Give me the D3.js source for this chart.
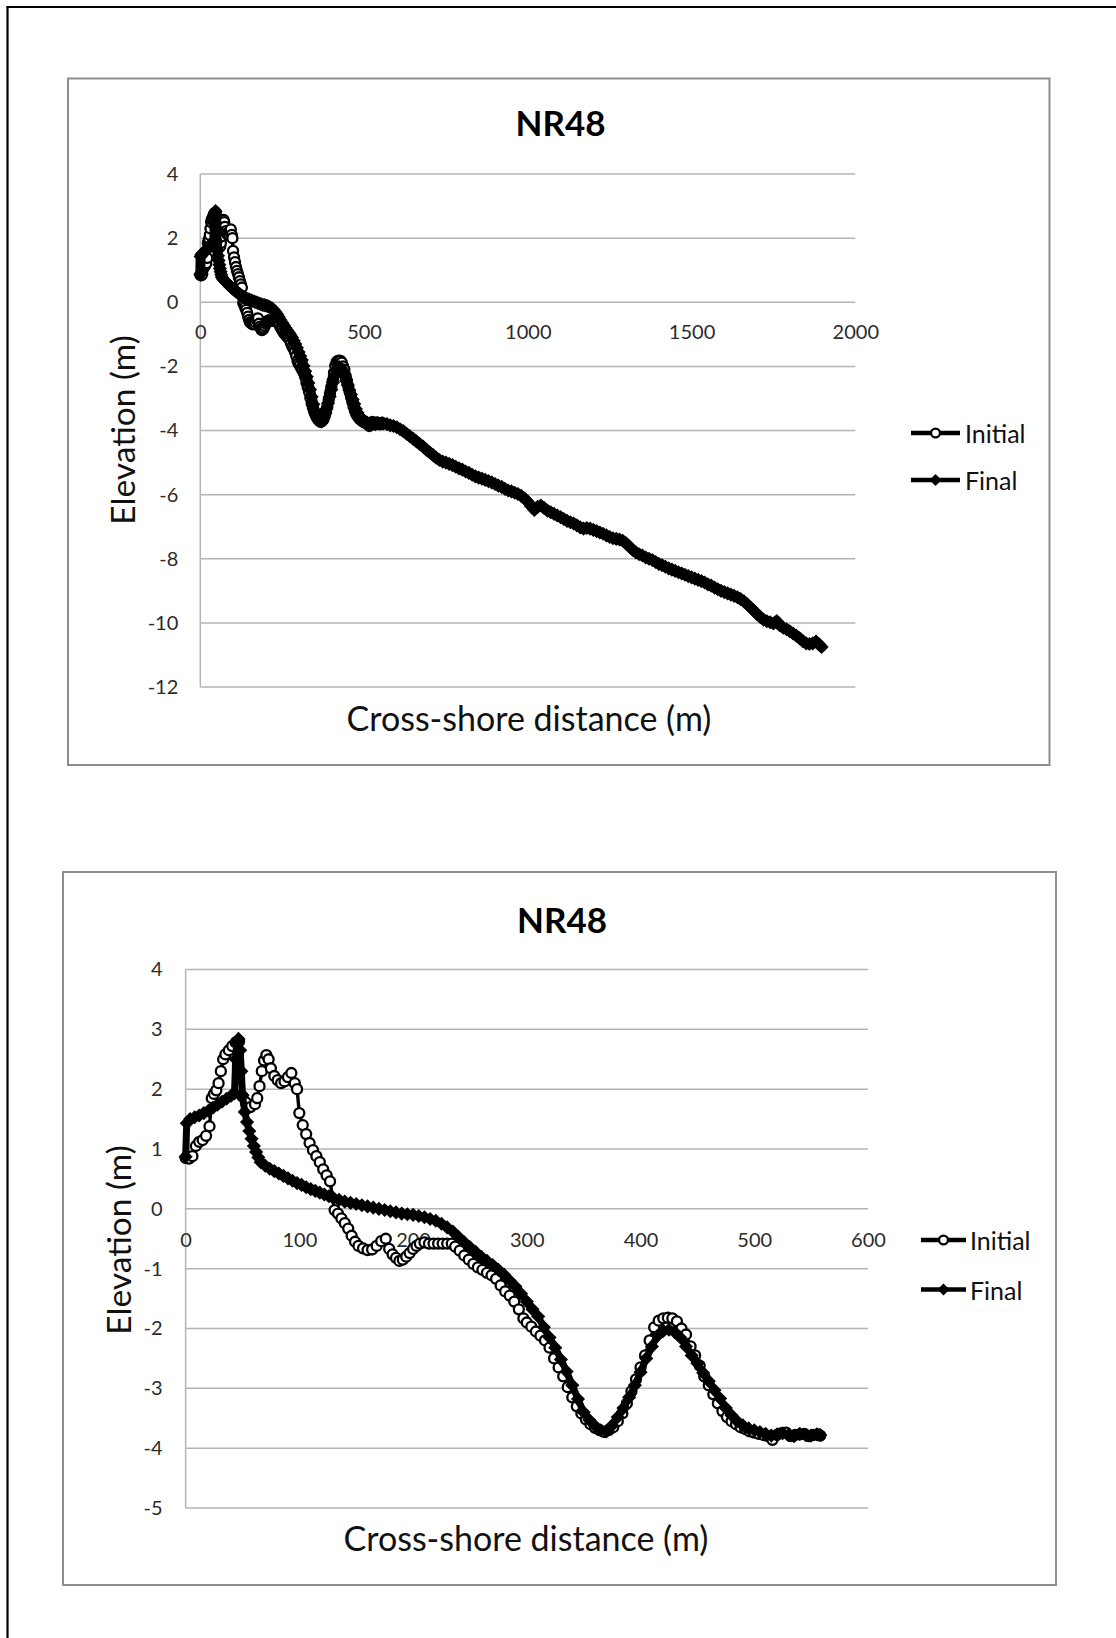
<!DOCTYPE html>
<html>
<head>
<meta charset="utf-8">
<script src="https://cdn.jsdelivr.net/npm/d3@7"></script>
<style>
  body { margin: 0; background: #fff; }
  svg { display: block; }
  text { font-family: Lato, "Open Sans", "Liberation Sans", sans-serif; }
</style>
</head>
<body>
<svg id="fig" width="1116" height="1638"></svg>
<script>
// Profile NR48: cross-shore distance (m) vs elevation (m)

// Initial survey, nearshore part
const initialDist = [0, 3, 6, 9, 12, 15, 18, 21, 23, 25, 27, 29, 31, 33, 35, 38, 41, 44, 47,
  50, 53, 57, 61, 63, 65, 67, 69, 71, 73, 75, 78, 81, 84, 87, 90, 93, 96, 98,
  100, 103, 106, 109, 112, 115, 118, 121, 124, 127, 131, 134, 137, 140, 143, 146, 149,
  152, 156, 160, 164, 168, 172, 176, 179, 182, 185, 188, 191, 194, 197, 200, 203, 206,
  210, 214, 218, 222, 226, 230, 234, 237, 241, 245, 249, 253, 257, 261, 265, 269, 273,
  277, 281, 285, 289, 293, 297, 300, 304, 308, 312, 316, 320, 324, 328, 332, 336, 340,
  344, 348, 352, 356, 360, 364, 368, 372, 376, 380, 384, 388, 392, 396, 400, 404, 408,
  412, 416, 420, 424, 428, 432, 436, 440, 444, 448, 452, 456, 460, 464, 468, 472, 476,
  480, 484, 488, 492, 496, 500, 504, 508, 512, 516, 520, 524, 528, 532, 536, 540, 544,
  548, 552, 556, 558];
const initialElev = [0.85, 0.84, 0.88, 1.05, 1.12, 1.15, 1.22, 1.38, 1.85, 1.92, 1.98, 2.1, 2.3, 2.5, 2.58, 2.65, 2.72, 2.78, 2.8,
  1.88, 1.78, 1.7, 1.75, 1.85, 2.05, 2.3, 2.48, 2.57, 2.5, 2.35, 2.22, 2.15, 2.1, 2.13, 2.2, 2.27, 2.1, 2.0,
  1.6, 1.4, 1.25, 1.1, 0.98, 0.88, 0.78, 0.66, 0.56, 0.46, -0.02, -0.08, -0.16, -0.24, -0.33, -0.45, -0.55,
  -0.62, -0.66, -0.69, -0.68, -0.62, -0.54, -0.5, -0.67, -0.76, -0.82, -0.87, -0.85, -0.8, -0.74, -0.67, -0.62, -0.58,
  -0.56, -0.58, -0.58, -0.58, -0.58, -0.58, -0.58, -0.63, -0.7, -0.78, -0.85, -0.92, -0.98, -1.02, -1.07, -1.11, -1.17,
  -1.28, -1.38, -1.45, -1.55, -1.68, -1.83, -1.9, -1.97, -2.05, -2.12, -2.2, -2.32, -2.5, -2.65, -2.8, -2.98, -3.15,
  -3.3, -3.42, -3.52, -3.6, -3.66, -3.7, -3.73, -3.7, -3.65, -3.55, -3.42, -3.25, -3.05, -2.85, -2.65, -2.45, -2.2,
  -1.98, -1.87, -1.83, -1.82, -1.83, -1.88, -2.0, -2.1, -2.3, -2.45, -2.62, -2.8, -2.95, -3.1, -3.25, -3.38, -3.48,
  -3.55, -3.6, -3.65, -3.68, -3.72, -3.74, -3.76, -3.78, -3.8, -3.86, -3.78, -3.75, -3.74, -3.8, -3.78, -3.77, -3.76,
  -3.8, -3.78, -3.77, -3.79];

// Final survey, nearshore part
const finalDist = [0, 1, 4, 8, 12, 16, 20, 24, 28, 32, 36, 40, 43, 44, 45, 46.5, 48, 49, 50,
  52, 54, 56, 58, 60, 62, 64, 66, 70, 74, 78, 82, 86, 90, 94, 98, 102, 106, 110, 114,
  118, 122, 126, 130, 135, 140, 145, 150, 155, 160, 165, 170, 175, 180, 185, 190, 195,
  200, 205, 210, 215, 220, 225, 230, 235, 240, 245, 250, 255, 260, 265, 270, 275, 280,
  285, 290, 295, 300, 305, 310, 315, 320, 325, 330, 335, 340, 345, 350, 355, 360, 365,
  370, 375, 380, 385, 390, 395, 400, 405, 410, 415, 420, 425, 430, 435, 440, 445, 450,
  455, 460, 465, 470, 475, 480, 485, 490, 495, 500, 505, 510, 515, 520, 525, 530, 535,
  540, 545, 550, 555];
const finalElev = [0.87, 1.43, 1.5, 1.53, 1.56, 1.6, 1.64, 1.69, 1.74, 1.79, 1.84, 1.89, 1.93, 2.5, 2.78, 2.84, 2.65, 2.3, 1.9,
  1.62, 1.45, 1.3, 1.17, 1.05, 0.95, 0.86, 0.78, 0.72, 0.67, 0.63, 0.59, 0.55, 0.51, 0.47, 0.43, 0.4, 0.36, 0.33, 0.3,
  0.27, 0.24, 0.21, 0.18, 0.15, 0.12, 0.1, 0.08, 0.06, 0.04, 0.02, 0.0, -0.02, -0.04, -0.06, -0.08, -0.09,
  -0.1, -0.12, -0.14, -0.17, -0.2, -0.25, -0.31, -0.38, -0.47, -0.56, -0.64, -0.72, -0.8, -0.87, -0.94, -1.02, -1.1,
  -1.2, -1.3, -1.42, -1.55, -1.68, -1.8, -1.98, -2.15, -2.32, -2.52, -2.72, -2.95, -3.18, -3.4, -3.53, -3.63, -3.7,
  -3.72, -3.62, -3.48, -3.33, -3.15, -2.95, -2.73, -2.5, -2.3, -2.12, -2.04, -2.02, -2.06, -2.15, -2.3, -2.45, -2.58,
  -2.74, -2.88, -3.03, -3.17, -3.33, -3.45, -3.55, -3.62, -3.67, -3.7, -3.73, -3.76, -3.79, -3.77, -3.75, -3.78, -3.8,
  -3.76, -3.78, -3.79, -3.77];

// Final survey, offshore part (both surveys coincide here)
const offshoreDist = [558, 570, 580, 590, 600, 610, 620, 630, 640, 650, 660, 670, 680, 690, 700, 710, 720, 730, 740,
  750, 760, 770, 780, 790, 800, 810, 820, 830, 840, 850, 860, 870, 880, 890, 900, 910, 920, 930, 940, 950, 960,
  970, 980, 990, 1000, 1010, 1020, 1030, 1040, 1050, 1060, 1070, 1080, 1090, 1100, 1110, 1120, 1130, 1140, 1150,
  1160, 1170, 1180, 1190, 1200, 1210, 1220, 1230, 1240, 1250, 1260, 1270, 1280, 1290, 1300, 1310, 1320, 1330, 1340,
  1350, 1360, 1370, 1380, 1390, 1400, 1410, 1420, 1430, 1440, 1450, 1460, 1470, 1480, 1490, 1500, 1510, 1520, 1530,
  1540, 1550, 1560, 1570, 1580, 1590, 1600, 1610, 1620, 1630, 1640, 1650, 1660, 1670, 1680, 1690, 1700, 1710, 1720,
  1730, 1740, 1750, 1760, 1770, 1780, 1790, 1800, 1810, 1820, 1830, 1840, 1850, 1860, 1870, 1880, 1890, 1897];
const offshoreElev = [-3.78, -3.8, -3.84, -3.86, -3.9, -3.96, -4.02, -4.1, -4.18, -4.26, -4.34, -4.42, -4.5, -4.6, -4.68, -4.76, -4.85, -4.92, -4.97,
  -5.0, -5.04, -5.08, -5.13, -5.18, -5.22, -5.28, -5.32, -5.38, -5.43, -5.47, -5.5, -5.54, -5.58, -5.62, -5.67, -5.72, -5.76, -5.82, -5.87, -5.9, -5.94,
  -5.98, -6.04, -6.12, -6.22, -6.36, -6.48, -6.38, -6.34, -6.42, -6.5, -6.55, -6.6, -6.65, -6.7, -6.76, -6.82, -6.86, -6.9, -6.96,
  -7.02, -7.06, -7.04, -7.06, -7.1, -7.14, -7.18, -7.22, -7.27, -7.32, -7.36, -7.38, -7.4, -7.44, -7.52, -7.62, -7.72, -7.8, -7.86,
  -7.9, -7.96, -8.0, -8.04, -8.1, -8.16, -8.2, -8.25, -8.3, -8.34, -8.38, -8.42, -8.46, -8.5, -8.54, -8.58, -8.62, -8.66, -8.7,
  -8.74, -8.8, -8.84, -8.9, -8.95, -9.0, -9.04, -9.08, -9.12, -9.16, -9.2, -9.26, -9.33, -9.42, -9.52, -9.62, -9.72, -9.82, -9.9,
  -9.95, -9.98, -10.02, -9.94, -10.08, -10.15, -10.2, -10.26, -10.33, -10.4, -10.48, -10.57, -10.64, -10.66, -10.64, -10.58, -10.68, -10.75];

const seriesNames = ["Initial", "Final"];
const chartTitle = "NR48";
const xTitle = "Cross-shore distance (m)";
const yTitle = "Elevation (m)";

const xTicksFull = [0, 500, 1000, 1500, 2000];
const yTicksFull = [4, 2, 0, -2, -4, -6, -8, -10, -12];
const xTicksNear = [0, 100, 200, 300, 400, 500, 600];
const yTicksNear = [4, 3, 2, 1, 0, -1, -2, -3, -4, -5];

const toPoints = (xs, ys) => xs.map((d, i) => ({ x: d, y: ys[i] }));
const initialPts = toPoints(initialDist, initialElev);
const finalPts = toPoints(finalDist, finalElev).concat(toPoints(offshoreDist, offshoreElev));

const svg = d3.select("#fig");
const plain = d => String(d).replace("\u2212", "-");

// page frame (top and left edges)
svg.append("line").attr("x1", 7.5).attr("x2", 7.5).attr("y1", 6.5).attr("y2", 1638)
  .attr("stroke", "#000").attr("stroke-width", 2.2);
svg.append("line").attr("x1", 6.5).attr("x2", 1116).attr("y1", 7).attr("y2", 7)
  .attr("stroke", "#000").attr("stroke-width", 2.2);

// square diamond marker
const diamond = {
  draw(ctx, size) {
    const h = Math.sqrt(size / 2);
    ctx.moveTo(0, -h); ctx.lineTo(h, 0); ctx.lineTo(0, h); ctx.lineTo(-h, 0); ctx.closePath();
  }
};
const DIAMOND_SIZE = 100;
const CIRCLE_R = 5;

function drawPanel(cfg) {
  const g = svg.append("g");
  g.append("rect")
    .attr("x", cfg.box[0]).attr("y", cfg.box[1])
    .attr("width", cfg.box[2] - cfg.box[0]).attr("height", cfg.box[3] - cfg.box[1])
    .attr("fill", "#fff").attr("stroke", "#8e8e8e").attr("stroke-width", 2);

  const x = d3.scaleLinear().domain(cfg.xDomain).range([cfg.plot.left, cfg.plot.right]);
  const y = d3.scaleLinear().domain(cfg.yDomain).range([cfg.plot.bottom, cfg.plot.top]);

  // horizontal gridlines
  g.append("g").selectAll("line").data(cfg.yTicks).join("line")
    .attr("x1", x(cfg.xDomain[0])).attr("x2", x(cfg.xDomain[1]))
    .attr("y1", d => y(d)).attr("y2", d => y(d))
    .attr("stroke", "#b5b5b5").attr("stroke-width", 1.5);
  // vertical axis line
  g.append("line")
    .attr("x1", x(0)).attr("x2", x(0))
    .attr("y1", y(cfg.yDomain[0])).attr("y2", y(cfg.yDomain[1]))
    .attr("stroke", "#b5b5b5").attr("stroke-width", 1.5);

  // y tick labels
  const ya = g.append("g").attr("transform", `translate(${x(0)},0)`)
    .call(d3.axisLeft(y).tickValues(cfg.yTicks).tickFormat(plain).tickSize(0).tickPadding(cfg.yPad));
  ya.select(".domain").remove();
  ya.selectAll("text").attr("font-size", cfg.tickSize).attr("fill", "#2b2b2b")
    .style("font-family", "Lato, sans-serif");

  // x tick labels sit under the zero line
  const xa = g.append("g").attr("transform", `translate(0,${y(0)})`)
    .call(d3.axisBottom(x).tickValues(cfg.xTicks).tickFormat(plain).tickSize(0));
  xa.select(".domain").remove();
  xa.selectAll("text").attr("y", cfg.xLabelOffset).attr("dy", "0.35em")
    .attr("font-size", cfg.tickSize).attr("fill", "#2b2b2b")
    .style("font-family", "Lato, sans-serif");

  // titles
  g.append("text").attr("x", cfg.titlePos[0]).attr("y", cfg.titlePos[1])
    .attr("text-anchor", "middle").attr("dominant-baseline", "central")
    .attr("font-size", 35).attr("font-weight", "bold").attr("fill", "#000")
    .text(chartTitle);
  g.append("text").attr("x", cfg.xTitlePos[0]).attr("y", cfg.xTitlePos[1])
    .attr("text-anchor", "middle").attr("dominant-baseline", "central")
    .attr("font-size", 34).attr("fill", "#111").text(xTitle);
  g.append("text")
    .attr("transform", `translate(${cfg.yTitlePos[0]},${cfg.yTitlePos[1]}) rotate(-90)`)
    .attr("text-anchor", "middle").attr("dominant-baseline", "central")
    .attr("font-size", 33.5).attr("fill", "#111").text(yTitle);

  const line = d3.line().x(d => x(d.x)).y(d => y(d.y));
  const inRange = d => d.x >= cfg.xDomain[0] && d.x <= cfg.dataMax;
  const fin = finalPts.filter(inRange);
  const ini = initialPts.filter(inRange);

  // Initial: open circles
  g.append("path").datum(ini).attr("d", line)
    .attr("fill", "none").attr("stroke", "#000").attr("stroke-width", 3.4).attr("stroke-linejoin", "round");
  g.append("g").selectAll("circle").data(ini).join("circle")
    .attr("cx", d => x(d.x)).attr("cy", d => y(d.y)).attr("r", CIRCLE_R)
    .attr("fill", "#fff").attr("stroke", "#000").attr("stroke-width", 2.3);

  // Final: filled diamonds, drawn over Initial
  g.append("path").datum(fin).attr("d", line)
    .attr("fill", "none").attr("stroke", "#000").attr("stroke-width", cfg.finalWidth)
    .attr("stroke-linejoin", "round").attr("stroke-linecap", "round");
  const sym = d3.symbol().type(diamond).size(DIAMOND_SIZE);
  g.append("g").selectAll("path").data(fin).join("path")
    .attr("transform", d => `translate(${x(d.x)},${y(d.y)})`)
    .attr("d", sym).attr("fill", "#000");

  // legend
  const lg = g.append("g");
  seriesNames.forEach((name, i) => {
    const ly = cfg.legend.y[i];
    lg.append("line").attr("x1", cfg.legend.x0).attr("x2", cfg.legend.x1)
      .attr("y1", ly).attr("y2", ly).attr("stroke", "#000").attr("stroke-width", 4.5);
    const mx = (cfg.legend.x0 + cfg.legend.x1) / 2;
    if (i === 0) {
      lg.append("circle").attr("cx", mx).attr("cy", ly).attr("r", 4.4)
        .attr("fill", "#fff").attr("stroke", "#000").attr("stroke-width", 2.2);
    } else {
      lg.append("path").attr("transform", `translate(${mx},${ly})`)
        .attr("d", d3.symbol().type(diamond).size(72)).attr("fill", "#000");
    }
    lg.append("text").attr("x", cfg.legend.tx).attr("y", ly)
      .attr("dominant-baseline", "central").attr("font-size", 25).attr("fill", "#111")
      .text(name);
  });
}

// full profile
drawPanel({
  box: [68, 78.5, 1049.5, 765],
  plot: { left: 200.3, right: 855.3, top: 174, bottom: 687 },
  xDomain: [0, 2000], yDomain: [-12, 4], dataMax: 2000, finalWidth: 10,
  xTicks: xTicksFull, yTicks: yTicksFull,
  yPad: 22, xLabelOffset: 30, tickSize: 20,
  titlePos: [560.5, 122], xTitlePos: [529, 717], yTitlePos: [122, 430],
  legend: { x0: 911, x1: 960, tx: 965, y: [433, 480] }
});

// nearshore detail
drawPanel({
  box: [63, 872, 1056, 1585],
  plot: { left: 185.6, right: 868, top: 969.5, bottom: 1508 },
  xDomain: [0, 600], yDomain: [-5, 4], dataMax: 558, finalWidth: 7,
  xTicks: xTicksNear, yTicks: yTicksNear,
  yPad: 23, xLabelOffset: 31, tickSize: 20,
  titlePos: [562, 919], xTitlePos: [526, 1537], yTitlePos: [117.5, 1240],
  legend: { x0: 921, x1: 966, tx: 970, y: [1240, 1289.5] }
});
</script>
</body>
</html>
